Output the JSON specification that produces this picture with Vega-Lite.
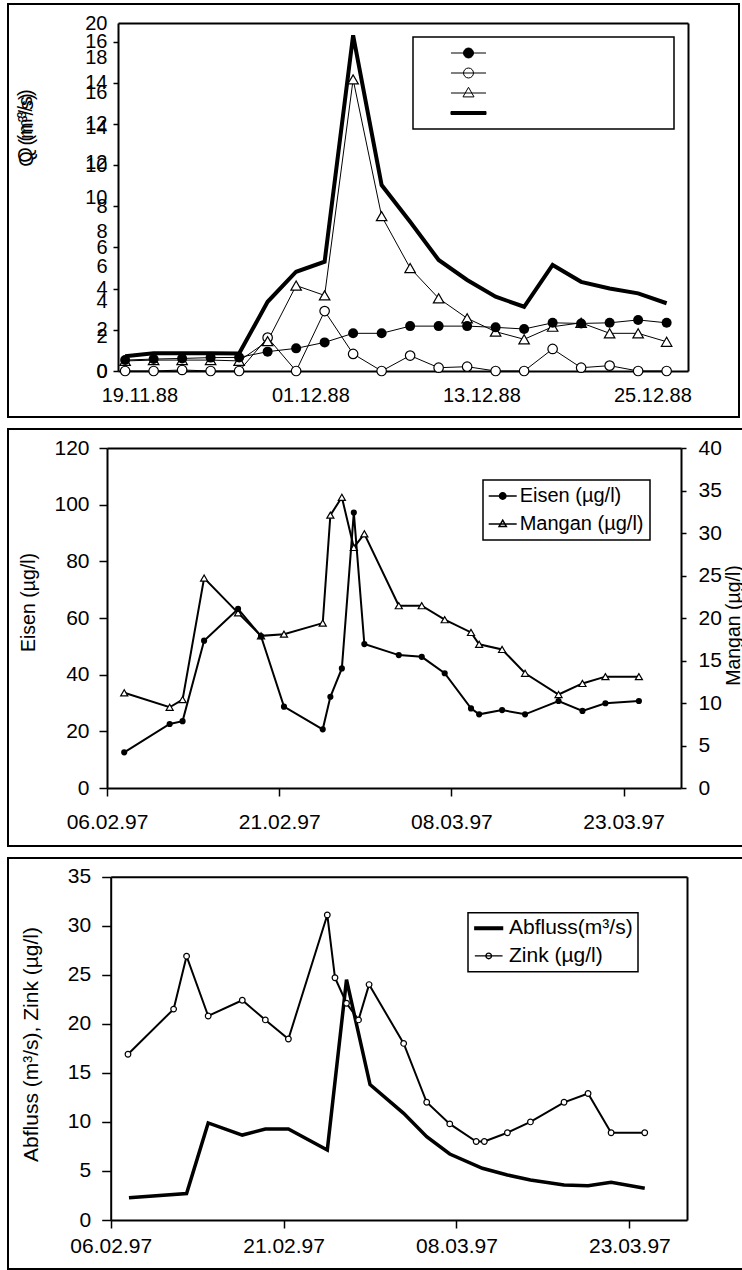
{
  "$schema": "https://vega.github.io/schema/vega-lite/v6.json",
  "padding": {"left": 7, "top": 3, "right": 0, "bottom": 0},
  "background": "white",
  "spacing": 10,
  "resolve": {"scale": {"shape": "independent", "fill": "independent"}, "legend": {"shape": "independent", "fill": "independent"}},
  "datasets": {
    "p1": [
      {"date":"1988-11-18","series":"Reihe1","value":0.53},{"date":"1988-11-20","series":"Reihe1","value":0.58},{"date":"1988-11-22","series":"Reihe1","value":0.61},{"date":"1988-11-24","series":"Reihe1","value":0.65},{"date":"1988-11-26","series":"Reihe1","value":0.66},{"date":"1988-11-28","series":"Reihe1","value":0.94},{"date":"1988-11-30","series":"Reihe1","value":1.10},{"date":"1988-12-02","series":"Reihe1","value":1.39},{"date":"1988-12-04","series":"Reihe1","value":1.83},{"date":"1988-12-06","series":"Reihe1","value":1.83},{"date":"1988-12-08","series":"Reihe1","value":2.18},{"date":"1988-12-10","series":"Reihe1","value":2.18},{"date":"1988-12-12","series":"Reihe1","value":2.18},{"date":"1988-12-14","series":"Reihe1","value":2.12},{"date":"1988-12-16","series":"Reihe1","value":2.04},{"date":"1988-12-18","series":"Reihe1","value":2.34},{"date":"1988-12-20","series":"Reihe1","value":2.31},{"date":"1988-12-22","series":"Reihe1","value":2.34},{"date":"1988-12-24","series":"Reihe1","value":2.48},{"date":"1988-12-26","series":"Reihe1","value":2.34},
      {"date":"1988-11-18","series":"Reihe2","value":0},{"date":"1988-11-20","series":"Reihe2","value":0},{"date":"1988-11-22","series":"Reihe2","value":0.05},{"date":"1988-11-24","series":"Reihe2","value":0},{"date":"1988-11-26","series":"Reihe2","value":0},{"date":"1988-11-28","series":"Reihe2","value":1.62},{"date":"1988-11-30","series":"Reihe2","value":0},{"date":"1988-12-02","series":"Reihe2","value":2.91},{"date":"1988-12-04","series":"Reihe2","value":0.83},{"date":"1988-12-06","series":"Reihe2","value":0},{"date":"1988-12-08","series":"Reihe2","value":0.75},{"date":"1988-12-10","series":"Reihe2","value":0.16},{"date":"1988-12-12","series":"Reihe2","value":0.21},{"date":"1988-12-14","series":"Reihe2","value":0},{"date":"1988-12-16","series":"Reihe2","value":0},{"date":"1988-12-18","series":"Reihe2","value":1.07},{"date":"1988-12-20","series":"Reihe2","value":0.16},{"date":"1988-12-22","series":"Reihe2","value":0.26},{"date":"1988-12-24","series":"Reihe2","value":0},{"date":"1988-12-26","series":"Reihe2","value":0},
      {"date":"1988-11-18","series":"Reihe3","value":0.49},{"date":"1988-11-20","series":"Reihe3","value":0.53},{"date":"1988-11-22","series":"Reihe3","value":0.53},{"date":"1988-11-24","series":"Reihe3","value":0.53},{"date":"1988-11-26","series":"Reihe3","value":0.49},{"date":"1988-11-28","series":"Reihe3","value":1.45},{"date":"1988-11-30","series":"Reihe3","value":4.15},{"date":"1988-12-02","series":"Reihe3","value":3.67},{"date":"1988-12-04","series":"Reihe3","value":14.16},{"date":"1988-12-06","series":"Reihe3","value":7.52},{"date":"1988-12-08","series":"Reihe3","value":5.0},{"date":"1988-12-10","series":"Reihe3","value":3.53},{"date":"1988-12-12","series":"Reihe3","value":2.56},{"date":"1988-12-14","series":"Reihe3","value":1.91},{"date":"1988-12-16","series":"Reihe3","value":1.54},{"date":"1988-12-18","series":"Reihe3","value":2.15},{"date":"1988-12-20","series":"Reihe3","value":2.34},{"date":"1988-12-22","series":"Reihe3","value":1.83},{"date":"1988-12-24","series":"Reihe3","value":1.83},{"date":"1988-12-26","series":"Reihe3","value":1.42},
      {"date":"1988-11-18","series":"Q","value":0.72},{"date":"1988-11-20","series":"Q","value":0.86},{"date":"1988-11-22","series":"Q","value":0.86},{"date":"1988-11-24","series":"Q","value":0.86},{"date":"1988-11-26","series":"Q","value":0.85},{"date":"1988-11-28","series":"Q","value":3.36},{"date":"1988-11-30","series":"Q","value":4.82},{"date":"1988-12-02","series":"Q","value":5.31},{"date":"1988-12-04","series":"Q","value":16.3},{"date":"1988-12-06","series":"Q","value":9.03},{"date":"1988-12-08","series":"Q","value":7.25},{"date":"1988-12-10","series":"Q","value":5.39},{"date":"1988-12-12","series":"Q","value":4.42},{"date":"1988-12-14","series":"Q","value":3.61},{"date":"1988-12-16","series":"Q","value":3.12},{"date":"1988-12-18","series":"Q","value":5.15},{"date":"1988-12-20","series":"Q","value":4.33},{"date":"1988-12-22","series":"Q","value":4.01},{"date":"1988-12-24","series":"Q","value":3.77},{"date":"1988-12-26","series":"Q","value":3.29}
    ],
    "p2": [
      {"date":"1997-02-07T12:00:00Z","series":"Eisen (µg/l)","value":12.6},{"date":"1997-02-11T11:00:00Z","series":"Eisen (µg/l)","value":22.6},{"date":"1997-02-12T14:00:00Z","series":"Eisen (µg/l)","value":23.6},{"date":"1997-02-14T11:00:00Z","series":"Eisen (µg/l)","value":52},{"date":"1997-02-17T10:00:00Z","series":"Eisen (µg/l)","value":63.2},{"date":"1997-02-19T10:00:00Z","series":"Eisen (µg/l)","value":53.6},{"date":"1997-02-21T10:00:00Z","series":"Eisen (µg/l)","value":28.7},{"date":"1997-02-24T19:00:00Z","series":"Eisen (µg/l)","value":20.7},{"date":"1997-02-25T11:00:00Z","series":"Eisen (µg/l)","value":32.2},{"date":"1997-02-26T11:00:00Z","series":"Eisen (µg/l)","value":42.2},{"date":"1997-02-27T12:00:00Z","series":"Eisen (µg/l)","value":97.2},{"date":"1997-02-28T10:00:00Z","series":"Eisen (µg/l)","value":50.8},{"date":"1997-03-03T10:00:00Z","series":"Eisen (µg/l)","value":46.9},{"date":"1997-03-05T10:00:00Z","series":"Eisen (µg/l)","value":46.3},{"date":"1997-03-07T10:00:00Z","series":"Eisen (µg/l)","value":40.5},{"date":"1997-03-09T17:00:00Z","series":"Eisen (µg/l)","value":28.1},{"date":"1997-03-10T10:00:00Z","series":"Eisen (µg/l)","value":26},{"date":"1997-03-12T10:00:00Z","series":"Eisen (µg/l)","value":27.5},{"date":"1997-03-14T10:00:00Z","series":"Eisen (µg/l)","value":26},{"date":"1997-03-17T08:00:00Z","series":"Eisen (µg/l)","value":30.7},{"date":"1997-03-19T10:00:00Z","series":"Eisen (µg/l)","value":27.2},{"date":"1997-03-21T10:00:00Z","series":"Eisen (µg/l)","value":29.9},{"date":"1997-03-24T08:00:00Z","series":"Eisen (µg/l)","value":30.7},
      {"date":"1997-02-07T12:00:00Z","series":"Mangan (µg/l)","value":11.2},{"date":"1997-02-11T11:00:00Z","series":"Mangan (µg/l)","value":9.5},{"date":"1997-02-12T14:00:00Z","series":"Mangan (µg/l)","value":10.4},{"date":"1997-02-14T11:00:00Z","series":"Mangan (µg/l)","value":24.7},{"date":"1997-02-17T10:00:00Z","series":"Mangan (µg/l)","value":20.6},{"date":"1997-02-19T10:00:00Z","series":"Mangan (µg/l)","value":17.9},{"date":"1997-02-21T10:00:00Z","series":"Mangan (µg/l)","value":18.1},{"date":"1997-02-24T19:00:00Z","series":"Mangan (µg/l)","value":19.4},{"date":"1997-02-25T11:00:00Z","series":"Mangan (µg/l)","value":32.1},{"date":"1997-02-26T11:00:00Z","series":"Mangan (µg/l)","value":34.2},{"date":"1997-02-27T12:00:00Z","series":"Mangan (µg/l)","value":28.3},{"date":"1997-02-28T10:00:00Z","series":"Mangan (µg/l)","value":29.9},{"date":"1997-03-03T10:00:00Z","series":"Mangan (µg/l)","value":21.45},{"date":"1997-03-05T10:00:00Z","series":"Mangan (µg/l)","value":21.45},{"date":"1997-03-07T10:00:00Z","series":"Mangan (µg/l)","value":19.8},{"date":"1997-03-09T17:00:00Z","series":"Mangan (µg/l)","value":18.3},{"date":"1997-03-10T10:00:00Z","series":"Mangan (µg/l)","value":16.9},{"date":"1997-03-12T10:00:00Z","series":"Mangan (µg/l)","value":16.3},{"date":"1997-03-14T10:00:00Z","series":"Mangan (µg/l)","value":13.5},{"date":"1997-03-17T08:00:00Z","series":"Mangan (µg/l)","value":11.0},{"date":"1997-03-19T10:00:00Z","series":"Mangan (µg/l)","value":12.3},{"date":"1997-03-21T10:00:00Z","series":"Mangan (µg/l)","value":13.1},{"date":"1997-03-24T08:00:00Z","series":"Mangan (µg/l)","value":13.1}
    ],
    "p3": [
      {"date":"1997-02-07T12:00:00Z","series":"Zink (µg/l)","value":16.9},{"date":"1997-02-11T11:00:00Z","series":"Zink (µg/l)","value":21.5},{"date":"1997-02-12T14:00:00Z","series":"Zink (µg/l)","value":26.9},{"date":"1997-02-14T11:00:00Z","series":"Zink (µg/l)","value":20.8},{"date":"1997-02-17T10:00:00Z","series":"Zink (µg/l)","value":22.4},{"date":"1997-02-19T10:00:00Z","series":"Zink (µg/l)","value":20.4},{"date":"1997-02-21T10:00:00Z","series":"Zink (µg/l)","value":18.45},{"date":"1997-02-24T19:00:00Z","series":"Zink (µg/l)","value":31.1},{"date":"1997-02-25T11:00:00Z","series":"Zink (µg/l)","value":24.7},{"date":"1997-02-26T11:00:00Z","series":"Zink (µg/l)","value":22.1},{"date":"1997-02-27T12:00:00Z","series":"Zink (µg/l)","value":20.4},{"date":"1997-02-28T10:00:00Z","series":"Zink (µg/l)","value":24.0},{"date":"1997-03-03T10:00:00Z","series":"Zink (µg/l)","value":18.0},{"date":"1997-03-05T10:00:00Z","series":"Zink (µg/l)","value":12.0},{"date":"1997-03-07T10:00:00Z","series":"Zink (µg/l)","value":9.8},{"date":"1997-03-09T17:00:00Z","series":"Zink (µg/l)","value":8.0},{"date":"1997-03-10T10:00:00Z","series":"Zink (µg/l)","value":8.0},{"date":"1997-03-12T10:00:00Z","series":"Zink (µg/l)","value":8.9},{"date":"1997-03-14T10:00:00Z","series":"Zink (µg/l)","value":10.0},{"date":"1997-03-17T08:00:00Z","series":"Zink (µg/l)","value":12.0},{"date":"1997-03-19T10:00:00Z","series":"Zink (µg/l)","value":12.9},{"date":"1997-03-21T10:00:00Z","series":"Zink (µg/l)","value":8.9},{"date":"1997-03-24T08:00:00Z","series":"Zink (µg/l)","value":8.9},
      {"date":"1997-02-07T14:00:00Z","series":"Abfluss(m³/s)","value":2.28},{"date":"1997-02-12T14:00:00Z","series":"Abfluss(m³/s)","value":2.7},{"date":"1997-02-14T11:00:00Z","series":"Abfluss(m³/s)","value":9.9},{"date":"1997-02-17T10:00:00Z","series":"Abfluss(m³/s)","value":8.66},{"date":"1997-02-19T10:00:00Z","series":"Abfluss(m³/s)","value":9.27},{"date":"1997-02-21T10:00:00Z","series":"Abfluss(m³/s)","value":9.27},{"date":"1997-02-24T19:00:00Z","series":"Abfluss(m³/s)","value":7.14},{"date":"1997-02-26T11:00:00Z","series":"Abfluss(m³/s)","value":24.5},{"date":"1997-02-28T12:00:00Z","series":"Abfluss(m³/s)","value":13.8},{"date":"1997-03-03T10:00:00Z","series":"Abfluss(m³/s)","value":10.87},{"date":"1997-03-05T10:00:00Z","series":"Abfluss(m³/s)","value":8.5},{"date":"1997-03-07T10:00:00Z","series":"Abfluss(m³/s)","value":6.73},{"date":"1997-03-10T06:00:00Z","series":"Abfluss(m³/s)","value":5.27},{"date":"1997-03-12T10:00:00Z","series":"Abfluss(m³/s)","value":4.59},{"date":"1997-03-14T10:00:00Z","series":"Abfluss(m³/s)","value":4.08},{"date":"1997-03-17T08:00:00Z","series":"Abfluss(m³/s)","value":3.57},{"date":"1997-03-19T10:00:00Z","series":"Abfluss(m³/s)","value":3.5},{"date":"1997-03-21T10:00:00Z","series":"Abfluss(m³/s)","value":3.84},{"date":"1997-03-24T08:00:00Z","series":"Abfluss(m³/s)","value":3.23}
    ]
  },
  "vconcat": [
    {
      "width": 731,
      "height": 413,
      "data": {"name": "p1"},
      "resolve": {"scale": {"y": "independent"}, "axis": {"x": "independent", "y": "independent"}},
      "layer": [
        {
          "transform": [{"filter": "datum.series === 'Q'"}],
          "mark": {"type": "point", "opacity": 0},
          "encoding": {
            "x": {"field": "date", "type": "temporal", "scale": {"type": "utc", "domain": [{"year": 1988, "month": 11, "date": 17, "hours": 12, "utc": true}, {"year": 1988, "month": 12, "date": 27, "hours": 12, "utc": true}], "range": [110, 680]}, "axis": null},
            "y": {"field": "value", "type": "quantitative", "scale": {"domain": [0, 20], "range": [367, 19]},
              "axis": {"orient": "left", "offset": -110, "values": [0, 2, 4, 6, 8, 10, 12, 14, 16, 18, 20], "ticks": false, "tickSize": 0, "domain": false, "labelPadding": 11, "labelFontSize": 20, "title": "Q (m³/s)", "titleFontSize": 20, "titleAngle": 270, "titleX": -92, "titleY": 125.5, "titleBaseline": "middle"}}
          }
        },
        {
          "transform": [{"filter": "datum.series !== 'Q'"}],
          "mark": {"type": "line", "color": "black", "strokeWidth": 1},
          "encoding": {
            "x": {"field": "date", "type": "temporal", "scale": {"type": "utc", "domain": [{"year": 1988, "month": 11, "date": 17, "hours": 12, "utc": true}, {"year": 1988, "month": 12, "date": 27, "hours": 12, "utc": true}], "range": [110, 680]},
              "axis": {"orient": "bottom", "offset": -46, "values": [{"year": 1988, "month": 11, "date": 19, "utc": true}, {"year": 1988, "month": 12, "date": 1, "utc": true}, {"year": 1988, "month": 12, "date": 13, "utc": true}, {"year": 1988, "month": 12, "date": 25, "utc": true}], "format": "%d.%m.%y", "ticks": false, "tickSize": 0, "labelPadding": 14, "labelFontSize": 20, "title": null}},
            "y": {"field": "value", "type": "quantitative", "scale": {"domain": [0, 16.9], "range": [367, 19]},
              "axis": {"orient": "left", "offset": -110, "values": [0, 2, 4, 6, 8, 10, 12, 14, 16], "tickSize": 5, "labelPadding": 6, "labelFontSize": 20, "title": "Q (m³/s)", "titleFontSize": 20, "titleAngle": 270, "titleX": -93, "titleY": 121.5, "titleBaseline": "middle"}},
            "detail": {"field": "series", "type": "nominal"}
          }
        },
        {
          "transform": [{"filter": "datum.series === 'Q'"}],
          "mark": {"type": "line", "color": "black", "strokeWidth": 4},
          "encoding": {
            "x": {"field": "date", "type": "temporal", "axis": null},
            "y": {"field": "value", "type": "quantitative", "scale": {"domain": [0, 16.9], "range": [367, 19]}, "axis": null}
          }
        },
        {
          "transform": [{"filter": "datum.series === 'Reihe2'"}],
          "mark": {"type": "point", "shape": "circle", "filled": true, "fill": "white", "stroke": "black", "strokeWidth": 1.2, "size": 90, "opacity": 1},
          "encoding": {
            "x": {"field": "date", "type": "temporal", "axis": null},
            "y": {"field": "value", "type": "quantitative", "scale": {"domain": [0, 16.9], "range": [367, 19]}, "axis": null}
          }
        },
        {
          "transform": [{"filter": "datum.series === 'Reihe3'"}],
          "mark": {"type": "point", "shape": "triangle-up", "filled": true, "fill": "white", "stroke": "black", "strokeWidth": 1.2, "size": 110, "opacity": 1},
          "encoding": {
            "x": {"field": "date", "type": "temporal", "axis": null},
            "y": {"field": "value", "type": "quantitative", "scale": {"domain": [0, 16.9], "range": [367, 19]}, "axis": null}
          }
        },
        {
          "transform": [{"filter": "datum.series === 'Reihe1'"}],
          "mark": {"type": "point", "shape": "circle", "filled": true, "color": "black", "size": 100, "opacity": 1},
          "encoding": {
            "x": {"field": "date", "type": "temporal", "axis": null},
            "y": {"field": "value", "type": "quantitative", "scale": {"domain": [0, 16.9], "range": [367, 19]}, "axis": null}
          }
        },
        {
          "mark": {"type": "point", "filled": true, "opacity": 0},
          "encoding": {
            "x": {"field": "date", "type": "temporal", "axis": {"orient": "top", "offset": -19, "labels": false, "ticks": false, "tickSize": 0, "domainWidth": 2, "title": null}},
            "y": {"field": "value", "type": "quantitative", "scale": {"domain": [0, 16.9], "range": [367, 19]}, "axis": {"orient": "right", "offset": -51, "labels": false, "ticks": false, "tickSize": 0, "domainWidth": 2, "title": null}},
            "shape": {"field": "series", "type": "nominal",
              "scale": {"domain": ["Reihe1", "Reihe2", "Reihe3", "Q"], "range": ["M-2.92,0H2.92M-0.83,0A0.83,0.83,0,1,0,0.83,0A0.83,0.83,0,1,0,-0.83,0Z", "M-2.92,0H2.92M-0.83,0A0.83,0.83,0,1,0,0.83,0A0.83,0.83,0,1,0,-0.83,0Z", "M-2.92,0H2.92M0,-0.95L0.92,0.65L-0.92,0.65Z", "M-2.92,-0.25H2.92V0.25H-2.92Z"]},
              "legend": {"orient": "none", "legendX": 405, "legendY": 33, "title": null, "labelExpr": "''", "labelFontSize": 16, "labelOffset": 189.5, "symbolSize": 144, "strokeColor": "black", "padding": 8, "rowPadding": 4, "symbolOffset": 39.5,
                "encode": {"symbols": {"update": {"opacity": {"value": 1}, "stroke": {"value": "black"}, "strokeWidth": {"value": 1}}}, "legend": {"update": {"strokeWidth": {"value": 1.5}}}}}},
            "fill": {"field": "series", "type": "nominal",
              "scale": {"domain": ["Reihe1", "Reihe2", "Reihe3", "Q"], "range": ["black", "white", "white", "black"]},
              "legend": {"orient": "none", "legendX": 405, "legendY": 33, "title": null, "labelExpr": "''", "labelFontSize": 16, "labelOffset": 189.5, "symbolSize": 144, "strokeColor": "black", "padding": 8, "rowPadding": 4, "symbolOffset": 39.5,
                "encode": {"symbols": {"update": {"opacity": {"value": 1}, "stroke": {"value": "black"}, "strokeWidth": {"value": 1}}}, "legend": {"update": {"strokeWidth": {"value": 1.5}}}}}}
          }
        }
      ]
    },
    {
      "width": 745,
      "height": 417,
      "data": {"name": "p2"},
      "resolve": {"scale": {"y": "independent"}, "axis": {"x": "independent", "y": "independent"}},
      "layer": [
        {
          "transform": [{"filter": "datum.series === 'Mangan (µg/l)'"}],
          "mark": {"type": "line", "color": "black", "strokeWidth": 2},
          "encoding": {
            "x": {"field": "date", "type": "temporal", "scale": {"type": "utc", "domain": [{"year": 1997, "month": 2, "date": 6, "utc": true}, {"year": 1997, "month": 3, "date": 28, "utc": true}], "range": [99, 673]}, "axis": null},
            "y": {"field": "value", "type": "quantitative", "scale": {"domain": [0, 40], "range": [359, 19]},
              "axis": {"orient": "right", "offset": -72, "values": [0, 5, 10, 15, 20, 25, 30, 35, 40], "tickSize": 5, "labelPadding": 12, "labelFontSize": 21, "title": "Mangan (µg/l)", "titleFontSize": 19.5, "titleAngle": 270, "titleX": 52, "titleY": 196, "titleBaseline": "middle",
                "encode": {"ticks": {"update": {"x": {"value": -8}}}}}}
          }
        },
        {
          "transform": [{"filter": "datum.series === 'Mangan (µg/l)'"}],
          "mark": {"type": "point", "shape": "triangle-up", "filled": true, "fill": "white", "stroke": "black", "strokeWidth": 1.2, "size": 50, "opacity": 1},
          "encoding": {
            "x": {"field": "date", "type": "temporal", "axis": null},
            "y": {"field": "value", "type": "quantitative", "scale": {"domain": [0, 40], "range": [359, 19]}, "axis": null}
          }
        },
        {
          "transform": [{"filter": "datum.series === 'Eisen (µg/l)'"}],
          "mark": {"type": "line", "color": "black", "strokeWidth": 2},
          "encoding": {
            "x": {"field": "date", "type": "temporal",
              "axis": {"orient": "bottom", "offset": -58, "values": [{"year": 1997, "month": 2, "date": 6, "utc": true}, {"year": 1997, "month": 2, "date": 21, "utc": true}, {"year": 1997, "month": 3, "date": 8, "utc": true}, {"year": 1997, "month": 3, "date": 23, "utc": true}], "format": "%d.%m.%y", "tickSize": 8, "labelPadding": 15, "labelFontSize": 21, "title": null,
                "encode": {"ticks": {"update": {"y": {"value": -9}}}}}},
            "y": {"field": "value", "type": "quantitative", "scale": {"domain": [0, 120], "range": [359, 19]},
              "axis": {"orient": "left", "offset": -99, "values": [0, 20, 40, 60, 80, 100, 120], "tickSize": 8, "labelPadding": 10, "labelFontSize": 21, "title": "Eisen (µg/l)", "titleFontSize": 19.5, "titleAngle": 270, "titleX": -79, "titleY": 173, "titleBaseline": "middle"}}
          }
        },
        {
          "transform": [{"filter": "datum.series === 'Eisen (µg/l)'"}],
          "mark": {"type": "point", "shape": "circle", "filled": true, "color": "black", "size": 38, "opacity": 1},
          "encoding": {
            "x": {"field": "date", "type": "temporal", "axis": null},
            "y": {"field": "value", "type": "quantitative", "scale": {"domain": [0, 120], "range": [359, 19]}, "axis": null}
          }
        },
        {
          "mark": {"type": "point", "filled": true, "opacity": 0},
          "encoding": {
            "x": {"field": "date", "type": "temporal", "axis": {"orient": "top", "offset": -19, "labels": false, "ticks": false, "tickSize": 0, "domainWidth": 2, "title": null}},
            "y": {"field": "value", "type": "quantitative", "scale": {"domain": [0, 120], "range": [359, 19]}, "axis": null},
            "shape": {"field": "series", "type": "nominal",
              "scale": {"domain": ["Eisen (µg/l)", "Mangan (µg/l)"], "range": ["M-2,0H2M-0.46,0A0.46,0.46,0,1,0,0.46,0A0.46,0.46,0,1,0,-0.46,0Z", "M-2,0H2M0,-0.55L0.52,0.36L-0.52,0.36Z"]},
              "legend": {"orient": "none", "legendX": 475, "legendY": 51, "title": null, "symbolSize": 196, "labelFontSize": 20, "labelOffset": 7, "strokeColor": "black", "padding": 6, "rowPadding": 8, "symbolOffset": 3.7,
                "encode": {"symbols": {"update": {"opacity": {"value": 1}, "stroke": {"value": "black"}, "strokeWidth": {"value": 1.5}}}, "legend": {"update": {"strokeWidth": {"value": 1.5}}}}}},
            "fill": {"field": "series", "type": "nominal",
              "scale": {"domain": ["Eisen (µg/l)", "Mangan (µg/l)"], "range": ["black", "white"]},
              "legend": {"orient": "none", "legendX": 475, "legendY": 51, "title": null, "symbolSize": 196, "labelFontSize": 20, "labelOffset": 7, "strokeColor": "black", "padding": 6, "rowPadding": 8, "symbolOffset": 3.7,
                "encode": {"symbols": {"update": {"opacity": {"value": 1}, "stroke": {"value": "black"}, "strokeWidth": {"value": 1.5}}}, "legend": {"update": {"strokeWidth": {"value": 1.5}}}}}}
          }
        }
      ]
    },
    {
      "width": 745,
      "height": 411,
      "data": {"name": "p3"},
      "resolve": {"scale": {"y": "independent"}, "axis": {"x": "independent", "y": "independent"}},
      "layer": [
        {
          "transform": [{"filter": "datum.series === 'Abfluss(m³/s)'"}],
          "mark": {"type": "line", "color": "black", "strokeWidth": 3.5},
          "encoding": {
            "x": {"field": "date", "type": "temporal", "scale": {"type": "utc", "domain": [{"year": 1997, "month": 2, "date": 6, "utc": true}, {"year": 1997, "month": 3, "date": 28, "utc": true}], "range": [102.7, 679]},
              "axis": {"orient": "bottom", "offset": -49, "values": [{"year": 1997, "month": 2, "date": 6, "utc": true}, {"year": 1997, "month": 2, "date": 21, "utc": true}, {"year": 1997, "month": 3, "date": 8, "utc": true}, {"year": 1997, "month": 3, "date": 23, "utc": true}], "format": "%d.%m.%y", "tickSize": 8, "labelPadding": 7, "labelFontSize": 21, "title": null,
                "encode": {"ticks": {"update": {"y": {"value": -8}}}}}},
            "y": {"field": "value", "type": "quantitative", "scale": {"domain": [0, 35], "range": [362, 18.7]},
              "axis": {"orient": "left", "offset": -102.7, "values": [0, 5, 10, 15, 20, 25, 30, 35], "tickSize": 9, "labelPadding": 11, "labelFontSize": 21, "title": "Abfluss (m³/s), Zink (µg/l)", "titleFontSize": 21, "titleAngle": 270, "titleX": -79, "titleY": 186, "titleBaseline": "middle"}}
          }
        },
        {
          "transform": [{"filter": "datum.series === 'Zink (µg/l)'"}],
          "mark": {"type": "line", "color": "black", "strokeWidth": 2},
          "encoding": {
            "x": {"field": "date", "type": "temporal", "axis": null},
            "y": {"field": "value", "type": "quantitative", "scale": {"domain": [0, 35], "range": [362, 18.7]}, "axis": null}
          }
        },
        {
          "transform": [{"filter": "datum.series === 'Zink (µg/l)'"}],
          "mark": {"type": "point", "shape": "circle", "filled": true, "fill": "white", "stroke": "black", "strokeWidth": 1.2, "size": 32, "opacity": 1},
          "encoding": {
            "x": {"field": "date", "type": "temporal", "axis": null},
            "y": {"field": "value", "type": "quantitative", "scale": {"domain": [0, 35], "range": [362, 18.7]}, "axis": null}
          }
        },
        {
          "mark": {"type": "point", "filled": true, "opacity": 0},
          "encoding": {
            "x": {"field": "date", "type": "temporal", "axis": {"orient": "top", "offset": -18.7, "labels": false, "ticks": false, "tickSize": 0, "domainWidth": 2, "title": null}},
            "y": {"field": "value", "type": "quantitative", "scale": {"domain": [0, 35], "range": [362, 18.7]}, "axis": {"orient": "right", "offset": -66, "labels": false, "ticks": false, "tickSize": 0, "domainWidth": 2, "title": null}},
            "shape": {"field": "series", "type": "nominal",
              "scale": {"domain": ["Abfluss(m³/s)", "Zink (µg/l)"], "range": ["M-1.98,-0.18H1.98V0.18H-1.98Z", "M-1.98,0H1.98M-0.4,0A0.4,0.4,0,1,0,0.4,0A0.4,0.4,0,1,0,-0.4,0Z"]},
              "legend": {"orient": "none", "legendX": 460, "legendY": 54.7, "title": null, "symbolSize": 196, "labelFontSize": 21, "labelOffset": 9.8, "strokeColor": "black", "padding": 5, "rowPadding": 5.7, "symbolOffset": 5.2,
                "encode": {"symbols": {"update": {"opacity": {"value": 1}, "stroke": {"value": "black"}, "strokeWidth": {"value": 1.4}}}, "legend": {"update": {"strokeWidth": {"value": 1.5}}}}}},
            "fill": {"field": "series", "type": "nominal",
              "scale": {"domain": ["Abfluss(m³/s)", "Zink (µg/l)"], "range": ["black", "white"]},
              "legend": {"orient": "none", "legendX": 460, "legendY": 54.7, "title": null, "symbolSize": 196, "labelFontSize": 21, "labelOffset": 9.8, "strokeColor": "black", "padding": 5, "rowPadding": 5.7, "symbolOffset": 5.2,
                "encode": {"symbols": {"update": {"opacity": {"value": 1}, "stroke": {"value": "black"}, "strokeWidth": {"value": 1.4}}}, "legend": {"update": {"strokeWidth": {"value": 1.5}}}}}}
          }
        }
      ]
    }
  ],
  "config": {
    "font": "Liberation Sans",
    "view": {"stroke": "black", "strokeWidth": 2},
    "axis": {"labelColor": "black", "titleColor": "black", "domainColor": "black", "tickColor": "black", "grid": false, "titleFontWeight": "normal", "labelFont": "Liberation Sans", "titleFont": "Liberation Sans", "domainWidth": 2, "tickWidth": 1.5, "labelFlush": false, "labelOverlap": false},
    "legend": {"labelColor": "black", "labelFont": "Liberation Sans"}
  }
}
